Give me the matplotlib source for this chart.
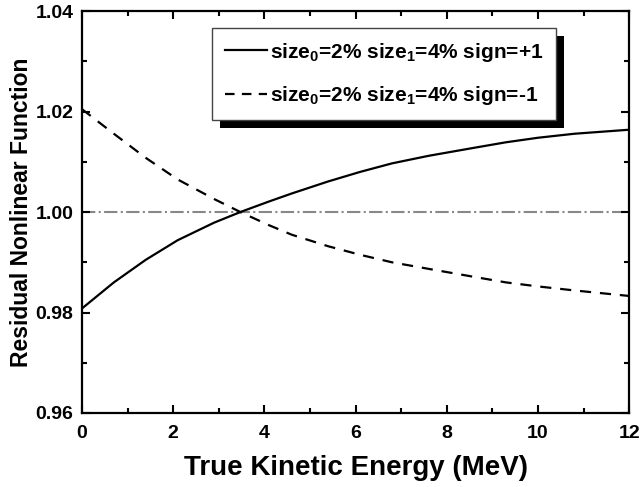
import matplotlib
matplotlib.use("Agg")
import matplotlib.pyplot as plt
from matplotlib.patches import Rectangle
from matplotlib.ticker import MultipleLocator

plt.rcParams['font.family'] = ['Liberation Sans', 'DejaVu Sans']
plt.rcParams['font.weight'] = 'bold'
plt.rcParams['mathtext.fontset'] = 'custom'
plt.rcParams['mathtext.rm'] = 'Liberation Sans:bold'
plt.rcParams['mathtext.bf'] = 'Liberation Sans:bold'
plt.rcParams['mathtext.it'] = 'Liberation Sans:bold'

energy = [0, 0.7, 1.4, 2.1, 2.9, 3.5, 4.1, 4.6, 5.4, 6.1, 6.8, 7.6, 8.6, 9.3, 10.0, 10.8, 12]
sign_plus = [0.9808, 0.9860, 0.9905, 0.9944, 0.9979, 1.0001, 1.0021, 1.0037, 1.0061, 1.0080,
             1.0097, 1.0112, 1.0128, 1.0139, 1.0148, 1.0156, 1.0164]
sign_minus = [1.0205, 1.0156, 1.0108, 1.0065, 1.0026, 0.9999, 0.9974, 0.9955, 0.9932, 0.9915,
              0.9900, 0.9887, 0.9871, 0.9860, 0.9852, 0.9844, 0.9833]
labels = [r'size$_0$=2% size$_1$=4% sign=+1', r'size$_0$=2% size$_1$=4% sign=-1']

fig = plt.figure(figsize=(6.4, 4.87), dpi=100)
ax = fig.add_axes([0.128, 0.152, 0.855, 0.825])

ax.axhline(1.0, color='#888888', linestyle='-.', linewidth=1.5, zorder=1)
ax.plot(energy, sign_plus, color='black', linewidth=1.6, label=labels[0])
ax.plot(energy, sign_minus, color='black', linewidth=1.6, linestyle=(0, (5, 4)), label=labels[1])

ax.set_xlim(0, 12)
ax.set_ylim(0.96, 1.04)
ax.xaxis.set_major_locator(MultipleLocator(2))
ax.xaxis.set_minor_locator(MultipleLocator(1))
ax.yaxis.set_minor_locator(MultipleLocator(0.01))
ax.set_yticks([0.96, 0.98, 1.00, 1.02, 1.04])
ax.set_yticklabels(['0.96', '0.98', '1.00', '1.02', '1.04'])
ax.tick_params(which='both', direction='in', top=True, right=True, width=1.5, labelsize=14)
ax.tick_params(which='major', length=6)
ax.tick_params(which='minor', length=3.5)
ax.tick_params(axis='x', pad=9)
ax.tick_params(axis='y', pad=6)
for s in ax.spines.values():
    s.set_linewidth(1.6)

ax.set_xlabel('True Kinetic Energy (MeV)', fontsize=20, fontweight='bold', labelpad=9)
ax.set_ylabel('Residual Nonlinear Function', fontsize=16.5, fontweight='bold', labelpad=2)

leg = ax.legend(loc='upper left', bbox_to_anchor=(0.238, 0.958), borderaxespad=0,
                fontsize=15, fancybox=False, framealpha=1, edgecolor='#444444',
                handlelength=2.05, handletextpad=0.15, borderpad=0.6, labelspacing=1.0)
leg.get_frame().set_linewidth(1.0)
leg.get_lines()[1].set_linestyle((0, (4.3, 3.3)))
leg.set_zorder(5)

fig.canvas.draw()
bb = leg.get_window_extent().transformed(fig.transFigure.inverted())
dx, dy = 8 / 640, 8 / 487
ax.add_patch(Rectangle((bb.x0 + dx, bb.y0 - dy), bb.width, bb.height, transform=fig.transFigure,
                       facecolor='black', edgecolor='none', zorder=4.5, clip_on=False))

fig.savefig('out.png', dpi=100)
